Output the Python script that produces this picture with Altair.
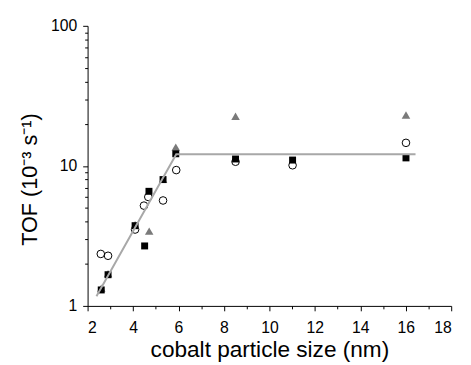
import altair as alt
import pandas as pd

# --- data ---
sq_x = [2.6, 2.9, 4.09, 4.51, 4.70, 5.32, 5.88, 8.51, 11.02, 16.01]
sq_y = [1.30, 1.67, 3.74, 2.68, 6.58, 7.98, 12.2, 11.2, 11.0, 11.4]
ci_x = [2.58, 2.9, 4.09, 4.48, 4.67, 5.32, 5.9, 8.51, 11.02, 16.01]
ci_y = [2.35, 2.28, 3.51, 5.2, 6.0, 5.66, 9.33, 10.7, 10.1, 14.6]
tr_x = [2.6, 2.9, 4.09, 4.71, 5.32, 5.88, 8.51, 16.01]
tr_y = [1.34, 1.7, 3.8, 3.42, 8.0, 13.6, 22.6, 23.1]
fit_x = [2.39, 5.9, 16.43]
fit_y = [1.17, 12.1, 12.1]

x_ticks = list(range(2, 19))
y_ticks = [1, 2, 3, 4, 5, 6, 7, 8, 9, 10, 20, 30, 40, 50, 60, 70, 80, 90, 100]

sq = pd.DataFrame({"x": sq_x, "y": sq_y})
ci = pd.DataFrame({"x": ci_x, "y": ci_y})
tr = pd.DataFrame({"x": tr_x, "y": tr_y})
fit = pd.DataFrame({"x": fit_x, "y": fit_y})

xscale = alt.Scale(domain=[2, 18], nice=False, zero=False)
yscale = alt.Scale(type="log", domain=[1, 100], nice=False)

xaxis = alt.Axis(
    title="cobalt particle size (nm)",
    values=x_ticks,
    labelExpr="datum.value % 2 == 0 ? datum.label : ''",
    tickSize={"condition": {"test": "datum.value % 2 == 0", "value": 5}, "value": 3},
    labelPadding=9,
    titleBaseline="alphabetic",
    titleY=51,
    titleFontSize=23,
    labelOverlap=False,
)
yaxis = alt.Axis(
    title="TOF (10⁻³ s⁻¹)",
    values=y_ticks,
    format="d",
    labelExpr="indexof([1,10,100], datum.value) >= 0 ? datum.label : ''",
    tickSize={"condition": {"test": "indexof([1,10,100], datum.value) >= 0", "value": 5}, "value": 3},
    labelPadding=6,
    labelOverlap=False,
    titlePadding=9,
    titleY=156,
    titleFontSize=22,
)

X = alt.X("x:Q", scale=xscale, axis=xaxis)
Y = alt.Y("y:Q", scale=yscale, axis=yaxis)

circles = alt.Chart(ci).mark_point(shape="circle", filled=False, color="#000000",
                                   size=60, strokeWidth=1, opacity=1).encode(x=X, y=Y)
tris = alt.Chart(tr).mark_point(shape="triangle-up", filled=True, color="#7a7a7a",
                                size=75, opacity=1).encode(x=X, y=Y)
squares = alt.Chart(sq).mark_point(shape="square", filled=True, color="#000000",
                                   size=50, opacity=1).encode(x=X, y=Y)
line = alt.Chart(fit).mark_line(color="#a8a8a8", strokeWidth=2).encode(x=X, y=Y)

chart = alt.layer(circles, tris, squares, line).properties(
    width=370, height=285,
    autosize=alt.AutoSizeParams(type="none"),
    padding={"left": 81, "top": 15, "right": 12, "bottom": 57},
).configure_view(stroke=None).configure_axis(
    grid=False,
    domainColor="#000000",
    tickColor="#000000",
    labelColor="#000000",
    titleColor="#000000",
    labelFont="Liberation Sans",
    titleFont="Liberation Sans",
    labelFontSize=16,
    titleFontWeight="normal",
    domainWidth=1,
)

chart.save("out.html", embed_options={"renderer": "svg", "actions": False})
